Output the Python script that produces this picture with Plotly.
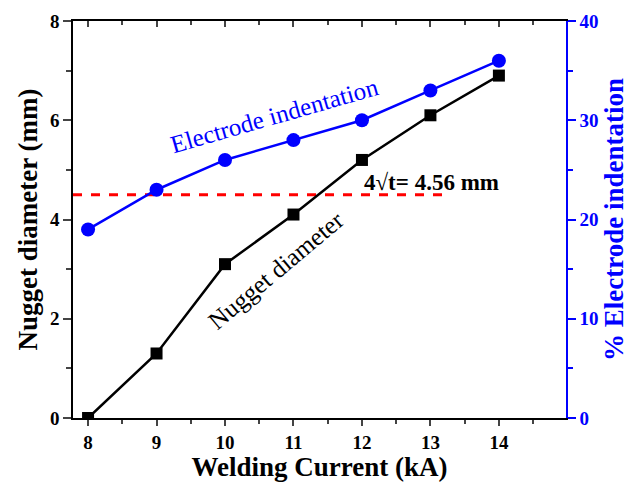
import plotly.graph_objects as go

current = [8, 9, 10, 11, 12, 13, 14]
nugget = [0.0, 1.3, 3.1, 4.1, 5.2, 6.1, 6.9]
indent = [19, 23, 26, 28, 30, 33, 36]
limit_x = [7.78, 13.2]
limit_y = [4.5, 4.5]

font = "Liberation Serif"
blue = "#0000ff"

fig = go.Figure()
fig.add_trace(go.Scatter(x=limit_x, y=limit_y, mode="lines",
                         line=dict(color="#ff0000", width=3, dash="dash"),
                         showlegend=False, hoverinfo="skip"))
fig.add_trace(go.Scatter(x=current, y=nugget, mode="lines+markers",
                         line=dict(color="black", width=2.5),
                         marker=dict(symbol="square", size=12, color="black"),
                         showlegend=False))
fig.add_trace(go.Scatter(x=current, y=indent, mode="lines+markers", yaxis="y2",
                         line=dict(color=blue, width=2.5),
                         marker=dict(symbol="circle", size=14, color=blue),
                         showlegend=False))
fig.add_trace(go.Scatter(x=[8], y=[0], xaxis="x2", mode="markers",
                         marker=dict(opacity=0), showlegend=False, hoverinfo="skip"))

xr = [7.78, 14.98]
fig.update_layout(
    width=633, height=482,
    margin=dict(l=73, r=67, t=21, b=64),
    plot_bgcolor="white", paper_bgcolor="white",
    font=dict(family=font, color="black"),
    xaxis=dict(range=xr, tickvals=current, ticks="outside", ticklen=6, tickwidth=1.5,
               automargin=False,
               showline=True, linecolor="black", linewidth=1.5, showgrid=False, zeroline=False,
               minor=dict(dtick=0.5, ticks="outside", ticklen=4, tickwidth=1.5, tick0=8),
               tickfont=dict(family=font, size=19, color="black", weight="bold"),
               title=dict(text="Welding Current (kA)", standoff=4,
                          font=dict(family=font, size=27, color="black", weight="bold"))),
    xaxis2=dict(range=xr, overlaying="x", side="top", tickvals=current, ticks="inside",
                automargin=False,
                ticklen=6, tickwidth=1.5, showticklabels=False, showline=True,
                linecolor="black", linewidth=1.5, showgrid=False, zeroline=False,
                minor=dict(dtick=0.5, ticks="inside", ticklen=4, tickwidth=1.5, tick0=8)),
    yaxis=dict(range=[0, 8], dtick=2, ticks="outside", ticklen=8, tickwidth=1.5,
               automargin=False,
               showline=True, linecolor="black", linewidth=1.5, showgrid=False, zeroline=False,
               minor=dict(dtick=1, ticks="outside", ticklen=5, tickwidth=1.5),
               tickfont=dict(family=font, size=19, color="black", weight="bold"),
               title=dict(text="Nugget diameter (mm)", standoff=5,
                          font=dict(family=font, size=27, color="black", weight="bold"))),
    yaxis2=dict(range=[0, 40], dtick=10, overlaying="y", side="right", ticks="outside",
                automargin=False,
                ticklen=8, tickwidth=1.5, tickcolor=blue, showline=True, linecolor=blue,
                linewidth=1.5, showgrid=False, zeroline=False,
                minor=dict(dtick=5, ticks="outside", ticklen=5, tickwidth=1.5, tickcolor=blue),
                tickfont=dict(family=font, size=19, color=blue, weight="bold"),
                title=dict(text="% Electrode indentation", standoff=5,
                           font=dict(family=font, size=27, color=blue, weight="bold"))),
    annotations=[
        dict(x=10.73, y=6.09, xref="x", yref="y", text="Electrode indentation",
             textangle=-16, showarrow=False, font=dict(family=font, size=25, color=blue)),
        dict(x=10.74, y=2.98, xref="x", yref="y", text="Nugget diameter",
             textangle=-40, showarrow=False, font=dict(family=font, size=25, color="black")),
        dict(x=13.02, y=4.74, xref="x", yref="y", text="4√t= 4.56 mm",
             showarrow=False, font=dict(family=font, size=23, color="black", weight="bold")),
    ],
)
fig.write_html("out.html")
